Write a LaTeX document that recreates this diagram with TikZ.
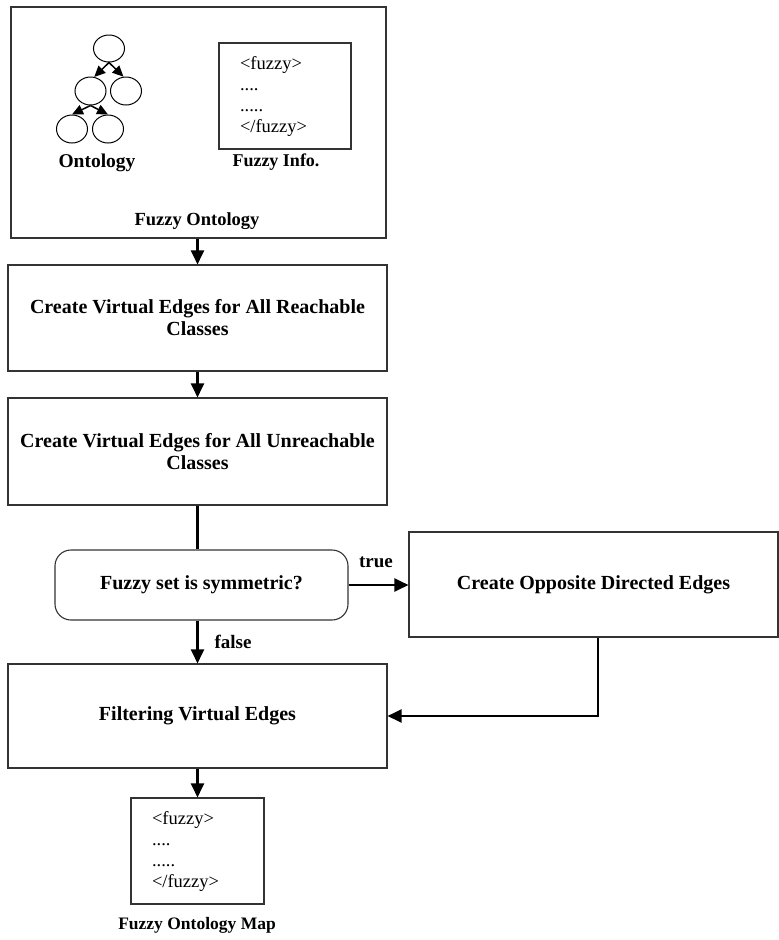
\documentclass[tikz,border=0pt]{standalone}
\usepackage{fontspec}
\setmainfont{Liberation Serif}
\usetikzlibrary{arrows.meta,shapes.geometric}

\begin{document}
\begin{tikzpicture}[x=1pt,y=-1pt,
  stepbox/.style={draw=black!80, line width=1.1pt, rectangle, inner sep=0pt,
    align=center, font=\fontsize{20}{22}\selectfont\bfseries},
  decision/.style={stepbox, rounded corners=16pt},
  docbox/.style={draw=black!80, line width=1.1pt, rectangle, inner xsep=21pt,
    inner ysep=0pt, align=left, font=\fontsize{18.5}{21}\selectfont},
  lbl/.style={inner sep=0pt, font=\fontsize{18}{22}\selectfont\bfseries},
  classnode/.style={draw, ellipse, line width=1pt, inner sep=0pt,
    minimum width=31pt, minimum height=28pt},
  flow/.style={line width=2.1pt, -{Triangle[length=14pt,width=13pt]}},
  plainline/.style={line width=2.1pt},
  treearrow/.style={line width=1.5pt, -{Triangle[length=11pt,width=10pt]}}
]
\useasboundingbox (0,0) rectangle (779,940);

% Fuzzy ontology container
\node[stepbox, minimum width=375pt, minimum height=231pt] (fo) at (198.5,122.5) {};
\node[lbl, font=\fontsize{18.5}{22}\selectfont\bfseries] (folbl) at (197,221) {Fuzzy Ontology};

% small class hierarchy
\node[classnode, minimum height=27pt] (root) at (109,48.5) {};
\node[classnode] (c1) at (90.5,91) {};
\node[classnode] (c2) at (126,91) {};
\node[classnode] (c3) at (72,129) {};
\node[classnode] (c4) at (108,129) {};
\draw[treearrow] (root.south) -- (c1.75);
\draw[treearrow] (root.south) -- (c2.100);
\draw[treearrow] (c1.south) -- (c3.north);
\draw[treearrow] (c1.south) -- (c4.north);
\node[lbl, font=\fontsize{19.5}{22}\selectfont\bfseries] (ontlbl) at (97,163) {Ontology};

% fuzzy information document
\node[docbox, text width=90pt, minimum height=106pt] (info) at (285,96)
  {<fuzzy>\\....\\.....\\</fuzzy>};
\node[lbl] (infolbl) at (276,162) {Fuzzy Info.};

% processing steps
\node[stepbox, minimum width=379pt, minimum height=106pt] (reach) at (197.5,318)
  {Create Virtual Edges for All Reachable\\Classes};
\node[stepbox, minimum width=379pt, minimum height=107pt] (unreach) at (197.5,451.5)
  {Create Virtual Edges for All Unreachable\\Classes};
\node[decision, minimum width=293pt, minimum height=70pt] (sym) at (201.5,585)
  {Fuzzy set is symmetric?};
\node[stepbox, minimum width=369pt, minimum height=105pt] (opp) at (593.5,584.5)
  {Create Opposite Directed Edges};
\node[stepbox, minimum width=379pt, minimum height=104pt] (filt) at (197.5,716)
  {Filtering Virtual Edges};

% resulting map document
\node[docbox, text width=91pt, minimum height=106pt] (map) at (197.5,851)
  {<fuzzy>\\....\\.....\\</fuzzy>};
\node[lbl, font=\fontsize{17.5}{20}\selectfont\bfseries] (maplbl) at (197,925) {Fuzzy Ontology Map};

% connectors
\draw[flow] (fo.south -| reach.north) -- (reach.north);
\draw[flow] (reach.south) -- (unreach.north);
\draw[plainline] (unreach.south) -- (unreach.south |- sym.north);
\draw[flow] (sym.east) -- (sym.east -| opp.west);
\node[lbl, font=\fontsize{19}{22}\selectfont\bfseries] (truelbl) at (376,562) {true};
\draw[flow] (sym.south -| filt.north) -- (filt.north);
\node[lbl, font=\fontsize{19}{22}\selectfont\bfseries] (falselbl) at (233,642) {false};
\draw[flow] ([xshift=4.5pt]opp.south) |- (filt.east);
\draw[flow] (filt.south) -- (map.north);
\end{tikzpicture}
\end{document}
